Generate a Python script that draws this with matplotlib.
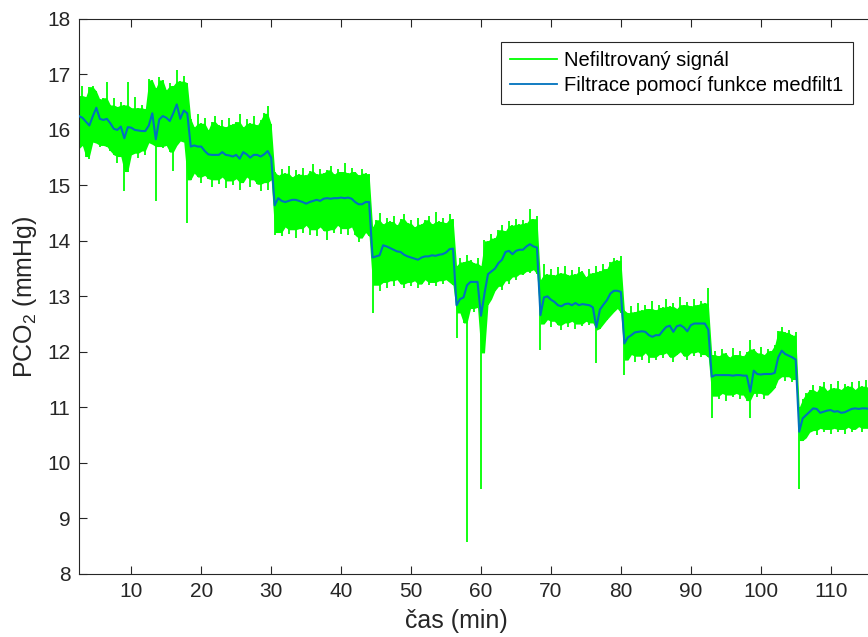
import numpy as np
import matplotlib
matplotlib.use("Agg")
import matplotlib.pyplot as plt
from matplotlib.lines import Line2D

plt.rcParams['font.family'] = ['Liberation Sans', 'DejaVu Sans']
plt.rcParams['mathtext.fontset'] = 'custom'
plt.rcParams['mathtext.rm'] = 'Liberation Sans'
plt.rcParams['mathtext.it'] = 'Liberation Sans:italic'

# sampling grid of the recording (minutes)
t_start = 2.5
t_step = 0.5

# upper envelope of the raw PCO2 signal at each sample (mmHg)
raw_upper = [
    16.62, 16.80, 16.60, 16.78, 16.80, 16.70, 16.55, 16.58, 16.86, 16.45, 16.57, 16.42,
    16.50, 16.45, 16.87, 16.40, 16.60, 16.40, 16.45, 16.38, 16.92, 16.90, 16.75, 16.95,
    16.90, 16.72, 16.85, 16.80, 17.08, 16.88, 16.98, 16.85,
    16.20, 16.05, 16.28, 16.12, 16.22, 16.00, 16.15, 16.25, 16.08, 16.18, 16.05, 16.22,
    16.10, 16.15, 16.28, 16.05, 16.20, 16.12, 16.25, 16.08, 16.18, 16.30, 16.44, 16.10,
    15.25, 15.18, 15.30, 15.22, 15.35, 15.15, 15.28, 15.20, 15.32, 15.18, 15.26, 15.38,
    15.20, 15.30, 15.22, 15.28, 15.35, 15.20, 15.30, 15.25, 15.40, 15.22, 15.32, 15.25,
    15.18, 15.30, 15.22, 15.20,
    14.25, 14.38, 14.50, 14.30, 14.42, 14.35, 14.45, 14.28, 14.40, 14.48, 14.32, 14.38,
    14.25, 14.42, 14.30, 14.38, 14.45, 14.30, 14.52, 14.35, 14.42, 14.32, 14.48, 14.40,
    13.55, 13.70, 13.62, 13.75, 13.65, 13.60, 13.70, 13.55, 14.02,
    14.00, 14.12, 14.05, 14.20, 14.28, 14.18, 14.35, 14.28, 14.40, 14.30, 14.38, 14.32,
    14.58, 14.40, 14.45,
    13.30, 13.58, 13.40, 13.50, 13.38, 13.52, 13.42, 13.55, 13.38, 13.48, 13.40, 13.52,
    13.45, 13.35, 13.50, 13.42, 13.55, 13.45, 13.58, 13.50, 13.62, 13.70, 13.65, 13.72,
    12.75, 12.70, 12.82, 12.72, 12.88, 12.75, 12.85, 12.78, 12.92, 12.75, 12.85, 12.80,
    12.95, 12.82, 12.88, 12.78, 12.98, 12.85, 12.90, 12.82, 12.95, 12.85, 12.92, 12.88,
    13.15,
    11.95, 12.02, 11.92, 12.05, 11.98, 11.90, 12.06, 11.95, 12.02, 11.92, 12.00, 12.21,
    12.05, 11.98, 12.08, 11.95, 12.05, 12.02, 12.12, 12.38, 12.45, 12.35, 12.40, 12.30,
    12.36,
    11.00, 11.15, 11.25, 11.32, 11.40, 11.28, 11.38, 11.45, 11.30, 11.42, 11.35, 11.48,
    11.32, 11.42, 11.38, 11.45, 11.32, 11.48, 11.38, 11.50, 11.35, 11.45, 11.40, 11.42,
]

# lower envelope of the raw PCO2 signal at each sample (mmHg)
raw_lower = [
    15.66, 15.72, 15.52, 15.47, 15.78, 15.76, 15.70, 15.72, 15.70, 15.62, 15.55, 15.40,
    15.52, 14.90, 15.25, 15.55, 15.58, 15.50, 15.62, 15.55, 15.77, 15.74, 14.72, 15.70,
    15.68, 15.72, 15.60, 15.26, 15.72, 15.80, 15.78, 14.32,
    15.10, 15.22, 15.15, 15.05, 15.18, 15.12, 14.98, 15.10, 15.02, 15.15, 14.95, 15.08,
    15.00, 15.12, 14.92, 15.05, 15.15, 14.98, 15.10, 15.02, 14.90, 15.05, 14.92, 15.10,
    14.10, 14.15, 14.08, 14.25, 14.12, 14.20, 14.05, 14.22, 14.15, 14.28, 14.10, 14.20,
    14.08, 14.25, 14.18, 14.02, 14.20, 14.15, 14.28, 14.12, 14.22, 14.10, 14.25, 14.10,
    13.98, 14.05, 14.15, 14.08,
    12.70, 13.20, 13.10, 13.25, 13.15, 13.28, 13.18, 13.30, 13.22, 13.15, 13.25, 13.18,
    13.28, 13.15, 13.22, 13.30, 13.20, 13.25, 13.18, 13.28, 13.22, 13.30, 13.25, 13.20,
    12.25, 12.70, 12.52, 8.58, 12.78, 12.72, 12.80, 9.53, 11.98,
    12.85, 12.95, 13.10, 13.18, 13.12, 13.28, 13.22, 13.35, 13.30, 13.40, 13.38, 13.45,
    13.42, 13.48, 13.40,
    12.03, 12.50, 12.58, 12.45, 12.55, 12.48, 12.40, 12.52, 12.45, 12.55, 12.42, 12.50,
    12.46, 12.55, 12.48, 12.52, 11.80, 12.42, 12.50, 12.58, 12.65, 12.72, 12.78, 12.70,
    11.58, 11.85, 11.95, 11.82, 11.92, 11.85, 11.98, 11.80, 11.90, 11.85, 11.95, 11.88,
    11.98, 11.90, 11.82, 11.95, 12.00, 11.92, 11.85, 11.98, 11.92, 12.00, 11.90, 11.95,
    11.90,
    10.80, 11.20, 11.15, 11.25, 11.12, 11.22, 11.18, 11.25, 11.15, 11.22, 11.12, 10.80,
    11.25, 11.18, 11.25, 11.15, 11.22, 11.28, 11.35, 11.50, 11.55, 11.48, 11.55, 11.45,
    11.50,
    9.52, 10.40, 10.45, 10.55, 10.58, 10.50, 10.62, 10.55, 10.60, 10.52, 10.62, 10.55,
    10.60, 10.52, 10.64, 10.55, 10.60, 10.65, 10.55, 10.62, 10.58, 10.62, 10.56, 10.60,
]

# output of the medfilt1 median filter (mmHg)
median_filtered = [
    16.25, 16.22, 16.15, 16.08, 16.25, 16.40, 16.20, 16.18, 16.20, 16.12, 16.02, 16.00,
    16.06, 15.85, 16.05, 16.04, 16.00, 15.99, 15.98, 15.98, 16.08, 16.30, 15.83, 16.19,
    16.25, 16.22, 16.16, 16.30, 16.46, 16.20, 16.35, 16.30,
    15.70, 15.72, 15.70, 15.70, 15.62, 15.56, 15.55, 15.55, 15.55, 15.60, 15.55, 15.54,
    15.52, 15.55, 15.48, 15.60, 15.56, 15.50, 15.55, 15.55, 15.52, 15.56, 15.62, 15.50,
    14.64, 14.77, 14.72, 14.70, 14.72, 14.74, 14.74, 14.72, 14.70, 14.67, 14.70, 14.72,
    14.74, 14.72, 14.76, 14.77, 14.76, 14.77, 14.77, 14.78, 14.77, 14.78, 14.76, 14.70,
    14.66, 14.66, 14.70, 14.70,
    13.70, 13.72, 13.74, 13.92, 13.90, 13.87, 13.84, 13.81, 13.80, 13.75, 13.72, 13.70,
    13.68, 13.66, 13.70, 13.72, 13.72, 13.74, 13.73, 13.75, 13.76, 13.79, 13.85, 13.86,
    12.84, 12.95, 12.98, 13.20, 13.26, 13.26, 13.26, 12.65, 13.05,
    13.40, 13.45, 13.50, 13.60, 13.66, 13.80, 13.82, 13.76, 13.82, 13.84, 13.84, 13.90,
    13.94, 13.90, 13.88,
    12.66, 12.98, 13.00, 12.94, 12.90, 12.84, 12.82, 12.86, 12.87, 12.84, 12.88, 12.84,
    12.86, 12.85, 12.84, 12.80, 12.44, 12.76, 12.85, 12.93, 13.05, 13.10, 13.10, 13.08,
    12.15, 12.26, 12.30, 12.35, 12.36, 12.37, 12.36, 12.30, 12.27, 12.30, 12.30, 12.38,
    12.45, 12.47, 12.36, 12.46, 12.48, 12.44, 12.37, 12.48, 12.51, 12.51, 12.51, 12.51,
    12.40,
    11.55, 11.58, 11.58, 11.58, 11.58, 11.58, 11.57, 11.58, 11.58, 11.57, 11.57, 11.28,
    11.66, 11.60, 11.59, 11.60, 11.60, 11.60, 11.62, 11.90, 12.02, 11.96, 11.93, 11.90,
    11.86,
    10.56, 10.80, 10.86, 10.92, 10.98, 10.97, 10.90, 10.92, 10.94, 10.95, 10.92, 10.93,
    10.90, 10.91, 10.94, 10.97, 10.98, 10.97, 10.98, 10.98, 10.97, 10.98, 10.97, 10.98,
]

x_ticks = [10, 20, 30, 40, 50, 60, 70, 80, 90, 100, 110]
y_ticks = [8, 9, 10, 11, 12, 13, 14, 15, 16, 17, 18]
legend_labels = ['Nefiltrovaný signál', 'Filtrace pomocí funkce medfilt1']

hi = np.array(raw_upper)
lo = np.array(raw_lower)
med = np.array(median_filtered)
t = t_start + t_step * np.arange(len(hi))

# dense core of the noisy band: 3-sample median of each envelope, so that
# isolated excursions stay thin strokes while the body of the band is solid
def median3(v):
    return np.median(np.vstack([np.r_[v[0], v[:-1]], v, np.r_[v[1:], v[-1]]]), axis=0)

core_hi = np.maximum(np.minimum(median3(hi), hi), med + 0.05)
core_lo = np.minimum(np.maximum(median3(lo), lo), med - 0.05)

GREEN = (0.0, 1.0, 0.0)
BLUE = (0.0, 0.447, 0.741)
AXC = (0.15, 0.15, 0.15)

fig = plt.figure(figsize=(8.68, 6.37), dpi=100)
ax = fig.add_axes([0.0907, 0.0994, 0.9227, 0.8708])

ax.fill_between(t, core_lo, core_hi, color=GREEN, lw=0, zorder=2)
ax.vlines(t, lo, hi, color=GREEN, lw=1.3, zorder=2)
ax.plot(t, med, color=BLUE, lw=1.5, zorder=3)

ax.set_xlim(2.48, 117.0)
ax.set_ylim(8, 18)
ax.set_xticks(x_ticks)
ax.set_yticks(y_ticks)
ax.tick_params(direction='in', length=6, width=0.8, colors=AXC, labelsize=15,
               top=True, right=True, labelcolor=AXC, pad=6)
for s in ax.spines.values():
    s.set_color(AXC)
    s.set_linewidth(0.8)

ax.set_xlabel('čas (min)', fontsize=18, color=AXC)
ax.xaxis.set_label_coords((456 - 78.7) / 800.9, -0.064)
ax.set_ylabel('PCO$_2$ (mmHg)', fontsize=18, color=AXC, labelpad=6)

handles = [Line2D([], [], color=GREEN, lw=1.3), Line2D([], [], color=BLUE, lw=1.3)]
leg = fig.legend(handles, legend_labels, loc='upper left',
                 bbox_to_anchor=(501 / 868, 1 - 42 / 637), fontsize=14.5,
                 frameon=True, fancybox=False, edgecolor=AXC, framealpha=1,
                 borderpad=0.45, handlelength=2.35, handletextpad=0.35,
                 labelspacing=0.3, borderaxespad=0)
leg.get_frame().set_linewidth(0.8)

fig.savefig('out.png', dpi=100)
